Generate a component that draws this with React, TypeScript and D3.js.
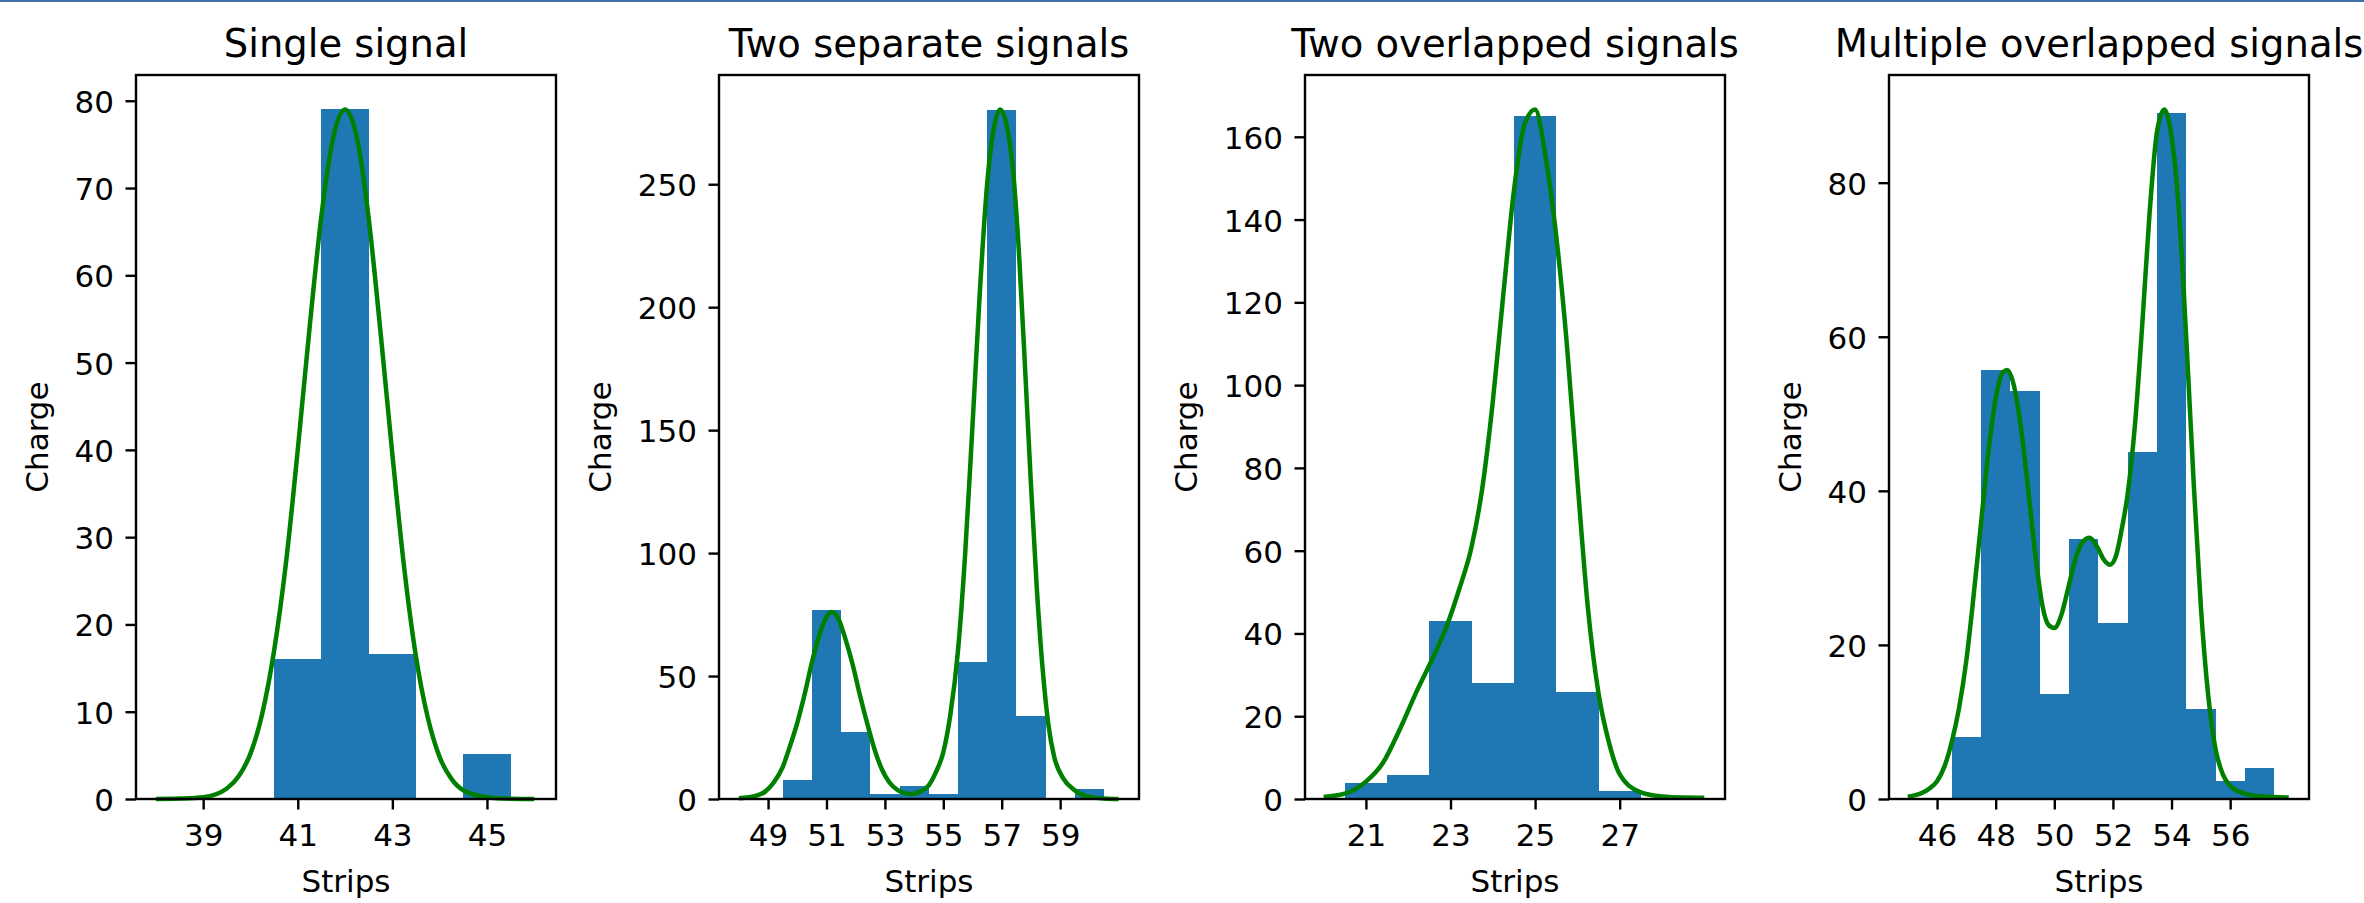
import React, { useRef, useEffect } from 'react';
import * as d3 from 'd3';

// figure / axes geometry (px)
const W = 2364;
const H = 903;
const axesLefts = [136, 719, 1305, 1889];
const axesTop = 75;
const axesW = 420;
const axesH = 724;
const font = '"DejaVu Sans", "Liberation Sans", sans-serif';

const titles = ['Single signal', 'Two separate signals', 'Two overlapped signals', 'Multiple overlapped signals'];

// panel 1: single signal
const singleStrips = [41, 42, 43, 44, 45];
const singleCharge = [16.0, 79.0, 16.6, 0, 5.1];
const singleFit: [number, number][] = [
  [38.0, 0], [38.5, 0.05], [39.0, 0.2], [39.5, 1.2], [39.75, 2.6], [40.0, 5.2], [40.25, 9.8],
  [40.5, 17.0], [40.75, 27.0], [41.0, 40.0], [41.25, 54.0], [41.5, 66.8], [41.75, 75.8], [42.0, 79.0],
  [42.25, 75.8], [42.5, 66.5], [42.75, 53.5], [43.0, 39.5], [43.25, 26.5], [43.5, 16.3], [43.75, 9.3],
  [44.0, 4.8], [44.25, 2.3], [44.5, 1.0], [45.0, 0.2], [45.5, 0.03], [46.0, 0],
];
const singleXTicks = [39, 41, 43, 45];
const singleYTicks = [0, 10, 20, 30, 40, 50, 60, 70, 80];
const singleXLim = [37.58, 46.46];

// panel 2: two separate signals
const separateStrips = [50, 51, 52, 53, 54, 55, 56, 57, 58, 59, 60];
const separateCharge = [7.9, 76.8, 27.2, 2.2, 5.1, 2.2, 55.7, 280, 33.8, 0, 4.1];
const separateFit: [number, number][] = [
  [48.0, 0.3], [48.5, 1.0], [48.9, 3.0], [49.2, 6.8], [49.5, 13], [49.75, 21.5], [50.0, 31],
  [50.25, 42.5], [50.5, 55.5], [50.75, 66.5], [51.0, 74], [51.18, 76], [51.4, 73.5], [51.65, 65],
  [51.9, 54.5], [52.15, 42], [52.4, 30.5], [52.65, 20], [52.9, 12], [53.15, 6.8], [53.45, 3.5],
  [53.7, 2.3], [53.9, 2.0], [54.2, 3.0], [54.5, 5.5], [54.75, 11], [55.0, 19], [55.25, 35],
  [55.5, 60], [55.75, 100], [56.0, 152], [56.25, 206], [56.5, 250], [56.75, 274], [56.95, 280.4],
  [57.15, 275], [57.4, 254], [57.6, 220], [57.8, 175], [58.0, 128], [58.2, 86], [58.4, 53],
  [58.6, 30], [58.8, 17], [59.1, 8.5], [59.45, 4], [59.9, 1.2], [60.5, 0.2], [61.0, 0],
];
const separateXTicks = [49, 51, 53, 55, 57, 59];
const separateYTicks = [0, 50, 100, 150, 200, 250];
const separateXLim = [47.32, 61.7];

// panel 3: two overlapped signals
const overlapStrips = [21, 22, 23, 24, 25, 26, 27];
const overlapCharge = [3.8, 5.8, 42.9, 28.1, 165.0, 25.8, 1.9];
const overlapFit: [number, number][] = [
  [20.0, 0.5], [20.5, 1.3], [21.0, 4.2], [21.4, 8.7], [21.8, 16.8], [22.2, 26], [22.6, 34.5],
  [22.9, 41.5], [23.2, 50.5], [23.5, 61], [23.75, 75], [24.0, 96], [24.25, 122], [24.5, 147],
  [24.75, 163], [25.0, 166.6], [25.25, 155], [25.5, 136], [25.75, 110], [26.0, 77], [26.25, 46],
  [26.5, 25.5], [26.75, 13.5], [27.0, 6.0], [27.5, 1.6], [28.0, 0.6], [28.5, 0.35], [29.0, 0.3],
];
const overlapXTicks = [21, 23, 25, 27];
const overlapYTicks = [0, 20, 40, 60, 80, 100, 120, 140, 160];
const overlapXLim = [19.56, 29.49];

// panel 4: multiple overlapped signals
const multiStrips = [47, 48, 49, 50, 51, 52, 53, 54, 55, 56, 57];
const multiCharge = [8.0, 55.7, 53.0, 13.6, 33.7, 22.8, 45.0, 89.0, 11.7, 2.3, 4.0];
const multiFit: [number, number][] = [
  [45.0, 0.3], [45.5, 0.8], [45.75, 1.4], [46.0, 2.3], [46.25, 4.2], [46.5, 7.4], [46.75, 11.8],
  [47.0, 18.0], [47.25, 26.5], [47.5, 35.8], [47.75, 45.0], [48.0, 52.0], [48.25, 55.4], [48.4, 55.7],
  [48.6, 54.0], [48.85, 48.5], [49.1, 40.5], [49.35, 31.8], [49.6, 25.0], [49.8, 22.6], [50.0, 22.2],
  [50.25, 24.0], [50.5, 27.8], [50.75, 31.5], [51.0, 33.5], [51.2, 33.9], [51.45, 32.8], [51.7, 31.0],
  [51.9, 30.4], [52.1, 31.5], [52.3, 35.0], [52.5, 39.5], [52.75, 48.5], [53.0, 61.5], [53.25, 76.0],
  [53.5, 86.5], [53.75, 89.5], [54.0, 86.0], [54.25, 76.5], [54.5, 60.0], [54.75, 41.5], [55.0, 25.0],
  [55.25, 13.5], [55.5, 6.5], [55.75, 3.2], [56.0, 1.7], [56.5, 0.7], [57.0, 0.35], [57.5, 0.25],
  [58.0, 0.2],
];
const multiXTicks = [46, 48, 50, 52, 54, 56];
const multiYTicks = [0, 20, 40, 60, 80];
const multiXLim = [44.36, 58.69];

const panels = [
  { strips: singleStrips, charge: singleCharge, fit: singleFit, xTicks: singleXTicks, yTicks: singleYTicks, xLim: singleXLim },
  { strips: separateStrips, charge: separateCharge, fit: separateFit, xTicks: separateXTicks, yTicks: separateYTicks, xLim: separateXLim },
  { strips: overlapStrips, charge: overlapCharge, fit: overlapFit, xTicks: overlapXTicks, yTicks: overlapYTicks, xLim: overlapXLim },
  { strips: multiStrips, charge: multiCharge, fit: multiFit, xTicks: multiXTicks, yTicks: multiYTicks, xLim: multiXLim },
];

function App() {
  const svgRef = useRef<SVGSVGElement>(null);

  useEffect(() => {
    const svg = d3.select(svgRef.current);
    svg.selectAll('*').remove();

    svg.append('rect').attr('width', W).attr('height', H).attr('fill', '#ffffff');
    // thin blue band along the top edge
    svg.append('rect').attr('width', W).attr('height', 2).attr('fill', '#4472a8');

    panels.forEach((p, i) => {
      const x = d3.scaleLinear().domain(p.xLim).range([0, axesW]);
      const yMax = 1.05 * Math.max(d3.max(p.charge) as number, d3.max(p.fit, d => d[1]) as number);
      const y = d3.scaleLinear().domain([0, yMax]).range([axesH, 0]);

      const g = svg.append('g').attr('transform', `translate(${axesLefts[i]},${axesTop})`);

      const bars = p.strips.map((s, j) => ({ s, c: p.charge[j] })).filter(d => d.c > 0);
      g.selectAll('rect.bar').data(bars)
        .enter().append('rect')
        .attr('class', 'bar')
        .attr('x', d => x(d.s - 0.5))
        .attr('width', d => x(d.s + 0.5) - x(d.s - 0.5))
        .attr('y', d => y(d.c))
        .attr('height', d => y(0) - y(d.c))
        .attr('fill', '#1f77b4')
        .attr('shape-rendering', 'crispEdges');

      const line = d3.line<[number, number]>()
        .x(d => x(d[0]))
        .y(d => y(d[1]))
        .curve(d3.curveMonotoneX);
      g.append('path').datum(p.fit)
        .attr('d', line)
        .attr('fill', 'none')
        .attr('stroke', '#008000')
        .attr('stroke-width', 4.5)
        .attr('stroke-linejoin', 'round');

      // axes
      const xAxis = g.append('g')
        .attr('transform', `translate(0,${axesH})`)
        .call(d3.axisBottom(x).tickValues(p.xTicks).tickSize(10.5).tickPadding(14.5).tickFormat(d3.format('d')));
      const yAxis = g.append('g')
        .call(d3.axisLeft(y).tickValues(p.yTicks).tickSize(10.5).tickPadding(11.5).tickFormat(d3.format('d')));

      [xAxis, yAxis].forEach(ax => {
        ax.select('.domain').remove();
        ax.selectAll('.tick line').attr('stroke', '#000').attr('stroke-width', 2.4);
        ax.selectAll('.tick text')
          .attr('fill', '#000')
          .style('font-family', font)
          .style('font-size', '31px');
      });
      yAxis.selectAll('.tick text').attr('dy', '0.37em');

      g.append('rect')
        .attr('width', axesW)
        .attr('height', axesH)
        .attr('fill', 'none')
        .attr('stroke', '#000')
        .attr('stroke-width', 2.4);

      // y label placed left of the widest tick label
      let minLeft = 0;
      yAxis.selectAll<SVGTextElement, unknown>('.tick text').each(function () {
        minLeft = Math.min(minLeft, this.getBBox().x);
      });
      g.append('text')
        .attr('transform', `translate(${minLeft - 27},${axesH / 2}) rotate(-90)`)
        .attr('text-anchor', 'middle')
        .style('font-family', font)
        .style('font-size', '31px')
        .attr('fill', '#000')
        .text('Charge');

      g.append('text')
        .attr('x', axesW / 2)
        .attr('y', axesH + 93)
        .attr('text-anchor', 'middle')
        .style('font-family', font)
        .style('font-size', '31px')
        .attr('fill', '#000')
        .text('Strips');

      g.append('text')
        .attr('x', axesW / 2)
        .attr('y', -18)
        .attr('text-anchor', 'middle')
        .style('font-family', font)
        .style('font-size', '38.5px')
        .attr('fill', '#000')
        .text(titles[i]);
    });
  }, []);

  return (
    <svg ref={svgRef} width={W} height={H}
      style={{ position: 'absolute', left: 0, top: 0, display: 'block' }} />
  );
}

export default App;
